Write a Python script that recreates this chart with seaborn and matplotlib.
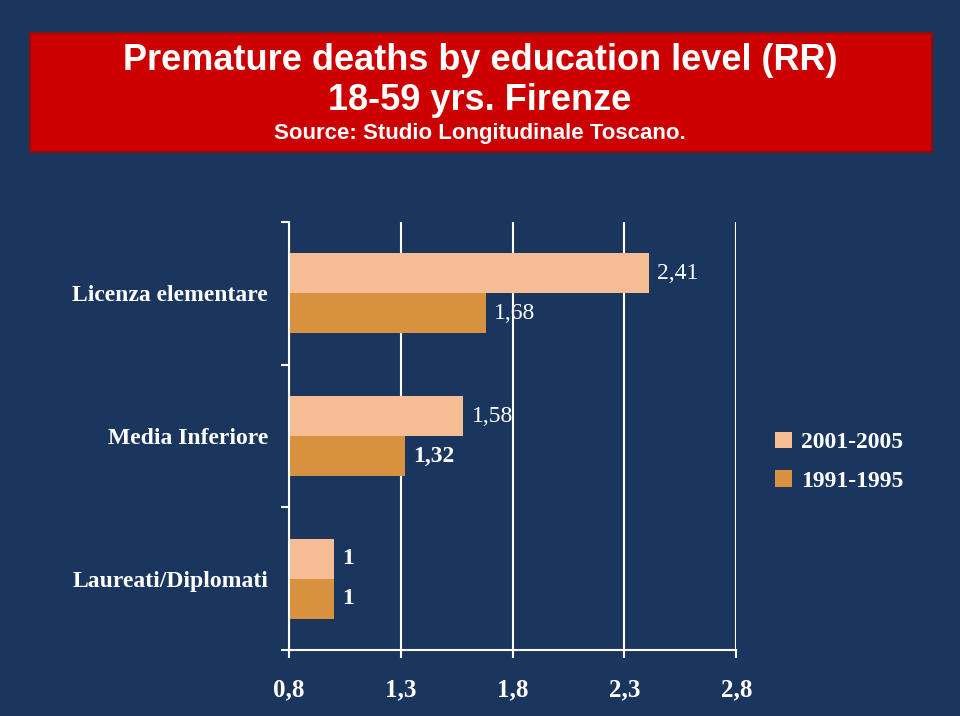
import pandas as pd
import matplotlib.pyplot as plt
import seaborn as sns
from matplotlib.patches import Rectangle

categories = ['Licenza elementare', 'Media Inferiore', 'Laureati/Diplomati']
periods = ['2001-2005', '1991-1995']
rr_2001_2005 = [2.41, 1.58, 1.0]
rr_1991_1995 = [1.68, 1.32, 1.0]
labels_2001_2005 = ['2,41', '1,58', '1']
labels_1991_1995 = ['1,68', '1,32', '1']
x_ticks = [0.8, 1.3, 1.8, 2.3, 2.8]
x_tick_labels = ['0,8', '1,3', '1,8', '2,3', '2,8']

bg = '#1b365e'
colors = ['#f5bd94', '#d8923f']
serif = 'Liberation Serif'

df = pd.DataFrame({
    'category': categories * 2,
    'period': [periods[0]] * 3 + [periods[1]] * 3,
    'rr': rr_2001_2005 + rr_1991_1995,
})

sns.set_style('white')
fig = plt.figure(figsize=(9.6, 7.16), dpi=100, facecolor=bg)
ax = fig.add_axes([0.301, 0.092, 0.466, 0.598])
ax.set_facecolor(bg)

sns.barplot(data=df, y='category', x='rr', hue='period', order=categories,
            hue_order=periods, palette=colors, orient='h', width=0.56,
            saturation=1, errorbar=None, linewidth=0, ax=ax)

ax.set_xlim(0.8, 2.8)
ax.set_ylim(2.5, -0.5)
ax.set_xticks(x_ticks)
ax.set_xticklabels(x_tick_labels, fontsize=18, fontweight='bold', family=serif, color='white')
ax.set_yticks(range(3))
ax.set_yticklabels(categories, fontsize=17, fontweight='bold', family=serif, color='white')
ax.set_yticks([-0.5, 0.5, 1.5, 2.5], minor=True)
ax.tick_params(axis='y', which='major', length=0, pad=15, left=False)
ax.tick_params(axis='y', which='minor', length=6, color='white', width=1.5, left=True)
ax.tick_params(axis='x', length=6, color='white', width=1.5, pad=14, bottom=True)
ax.set_xlabel('')
ax.set_ylabel('')

ax.grid(axis='x', color='white', linewidth=1.5)
ax.set_axisbelow(True)
for side in ['top', 'right']:
    ax.spines[side].set_visible(False)
for side in ['left', 'bottom']:
    ax.spines[side].set_color('white')
    ax.spines[side].set_linewidth(1.5)

bold_labels = {'1,32', '1'}
for cont, labs in zip(ax.containers, [labels_2001_2005, labels_1991_1995]):
    texts = ax.bar_label(cont, labels=labs, padding=6, fontsize=17, color='white', family=serif)
    for t in texts:
        if t.get_text() in bold_labels:
            t.set_fontweight('bold')

leg = ax.legend(loc='center left', bbox_to_anchor=(1.04, 0.44), frameon=False,
                handlelength=0.7, handleheight=0.7, handletextpad=0.4, labelspacing=0.7,
                prop={'family': serif, 'weight': 'bold', 'size': 17})
for t in leg.get_texts():
    t.set_color('white')

# title banner
fig.patches.append(Rectangle((30 / 960, 1 - 152 / 716), 902 / 960, 119 / 716,
                             transform=fig.transFigure, facecolor='#cc0000',
                             edgecolor='#8a1010', linewidth=1.5, zorder=0))
fig.text(0.5, 1 - 61 / 716, 'Premature deaths by education level (RR)', ha='center', va='center',
         fontsize=26, fontweight='bold', color='white', family='Liberation Sans')
fig.text(0.5, 1 - 101 / 716, '18-59 yrs. Firenze', ha='center', va='center',
         fontsize=26, fontweight='bold', color='white', family='Liberation Sans')
fig.text(0.5, 1 - 134 / 716, 'Source: Studio Longitudinale Toscano.', ha='center', va='center',
         fontsize=16, fontweight='bold', color='white', family='Liberation Sans')

plt.savefig('out.png', dpi=100, facecolor=bg)
